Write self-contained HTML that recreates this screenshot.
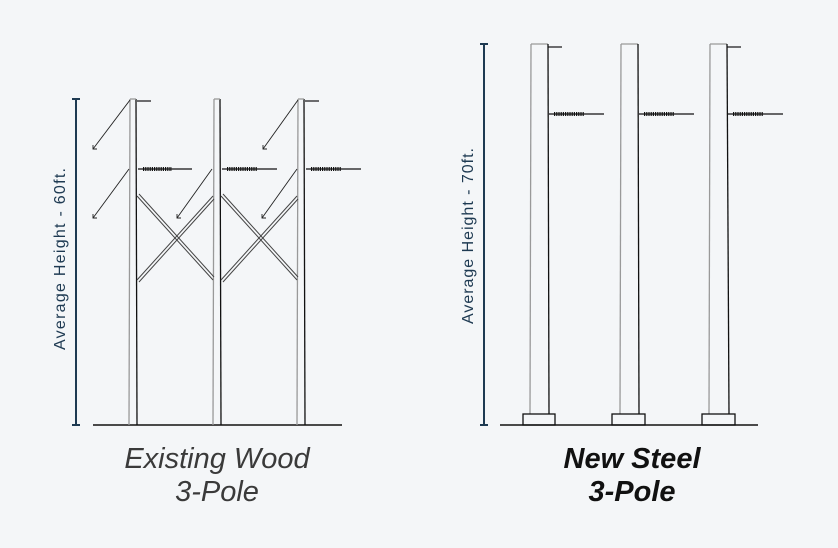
<!DOCTYPE html>
<html><head><style>body{margin:0;background:#f4f6f8}svg{display:block}</style></head><body>
<svg width="838" height="548" viewBox="0 0 838 548" xmlns="http://www.w3.org/2000/svg" font-family="Liberation Sans, sans-serif">
<rect width="838" height="548" fill="#f4f6f8"/>
<!-- Left axis -->
<g stroke="#1e3a52" stroke-width="2"><line x1="76" y1="99" x2="76" y2="425"/><line x1="72" y1="99" x2="80" y2="99"/><line x1="72" y1="425" x2="80" y2="425"/></g>
<text transform="translate(65,259) rotate(-90)" text-anchor="middle" font-size="16" fill="#1e3a52" textLength="182" lengthAdjust="spacing">Average Height - 60ft.</text>
<line x1="93" y1="425" x2="342" y2="425" stroke="#111" stroke-width="1.5"/>
<!-- wood poles -->
<g fill="none" stroke-width="1.3">
<g stroke="#999"><line x1="130" y1="99" x2="129" y2="425"/><line x1="214" y1="99" x2="213" y2="425"/><line x1="298" y1="99" x2="297" y2="425"/></g>
<g stroke="#111"><line x1="136" y1="99" x2="137" y2="425"/><line x1="220" y1="99" x2="221" y2="425"/><line x1="304" y1="99" x2="305" y2="425"/></g>
<g stroke="#999"><line x1="130" y1="99" x2="136" y2="99"/><line x1="214" y1="99" x2="220" y2="99"/><line x1="298" y1="99" x2="304" y2="99"/></g>
<!-- bracing -->
<g stroke="#444" stroke-width="1">
<line x1="137" y1="196" x2="213" y2="280"/><line x1="139" y1="194" x2="214" y2="277"/>
<line x1="137" y1="280" x2="213" y2="196"/><line x1="139" y1="282" x2="214" y2="199"/>
<line x1="221" y1="196" x2="297" y2="280"/><line x1="223" y1="194" x2="298" y2="277"/>
<line x1="221" y1="280" x2="297" y2="196"/><line x1="223" y1="282" x2="298" y2="199"/>
</g>
<!-- guy wires -->
<g stroke="#222" stroke-width="0.9">
<line x1="130" y1="100" x2="93" y2="149"/><line x1="129" y1="169" x2="93" y2="218"/>
<line x1="212" y1="169" x2="177" y2="218"/>
<line x1="298" y1="100" x2="263" y2="149"/><line x1="297" y1="169" x2="262" y2="218"/>
<path d="M93 145 V149 H97 M93 214 V218 H97 M177 214 V218 H181 M263 145 V149 H267 M262 214 V218 H266"/>
</g>
<!-- top flags -->
<g stroke="#111" stroke-width="1.2"><line x1="137" y1="101" x2="151" y2="101"/><line x1="305" y1="101" x2="319" y2="101"/></g>
<!-- insulators -->
<g stroke="#111">
<line x1="138" y1="169" x2="192" y2="169" stroke-width="1.2"/><line x1="143" y1="169" x2="172" y2="169" stroke-width="4" stroke-dasharray="1.2 1"/>
<line x1="222" y1="169" x2="277" y2="169" stroke-width="1.2"/><line x1="227" y1="169" x2="257" y2="169" stroke-width="4" stroke-dasharray="1.2 1"/>
<line x1="306" y1="169" x2="361" y2="169" stroke-width="1.2"/><line x1="311" y1="169" x2="341" y2="169" stroke-width="4" stroke-dasharray="1.2 1"/>
</g>
</g>
<!-- Right axis -->
<g stroke="#1e3a52" stroke-width="2"><line x1="484" y1="44" x2="484" y2="425"/><line x1="480" y1="44" x2="488" y2="44"/><line x1="480" y1="425" x2="488" y2="425"/></g>
<text transform="translate(473,236) rotate(-90)" text-anchor="middle" font-size="16" fill="#1e3a52" textLength="176" lengthAdjust="spacing">Average Height - 70ft.</text>
<line x1="500" y1="425" x2="758" y2="425" stroke="#111" stroke-width="1.5"/>
<g fill="none" stroke-width="1.3">
<g stroke="#999"><line x1="531" y1="44" x2="530" y2="414"/><line x1="621" y1="44" x2="620" y2="414"/><line x1="710" y1="44" x2="709" y2="414"/>
<line x1="531" y1="44" x2="548" y2="44"/><line x1="621" y1="44" x2="638" y2="44"/><line x1="710" y1="44" x2="727" y2="44"/></g>
<g stroke="#111"><line x1="548" y1="44" x2="549" y2="414"/><line x1="638" y1="44" x2="639" y2="414"/><line x1="727" y1="44" x2="729" y2="414"/>
<rect x="523" y="414" width="32" height="11"/><rect x="612" y="414" width="33" height="11"/><rect x="702" y="414" width="33" height="11"/>
<line x1="548" y1="47" x2="562" y2="47" stroke-width="1.2"/><line x1="727" y1="47" x2="741" y2="47" stroke-width="1.2"/>
<line x1="549" y1="114" x2="604" y2="114" stroke-width="1.2"/><line x1="554" y1="114" x2="584" y2="114" stroke-width="4" stroke-dasharray="1.2 1"/>
<line x1="639" y1="114" x2="694" y2="114" stroke-width="1.2"/><line x1="644" y1="114" x2="674" y2="114" stroke-width="4" stroke-dasharray="1.2 1"/>
<line x1="728" y1="114" x2="783" y2="114" stroke-width="1.2"/><line x1="733" y1="114" x2="763" y2="114" stroke-width="4" stroke-dasharray="1.2 1"/>
</g></g>
<!-- labels -->
<g font-size="29" fill="#3a3a3a" text-anchor="middle" font-style="italic">
<text x="217" y="468">Existing Wood</text><text x="217" y="501">3-Pole</text>
</g>
<g font-size="29" fill="#111" text-anchor="middle" font-style="italic" font-weight="bold">
<text x="632" y="468">New Steel</text><text x="632" y="501">3-Pole</text>
</g>
</svg>
</body></html>
